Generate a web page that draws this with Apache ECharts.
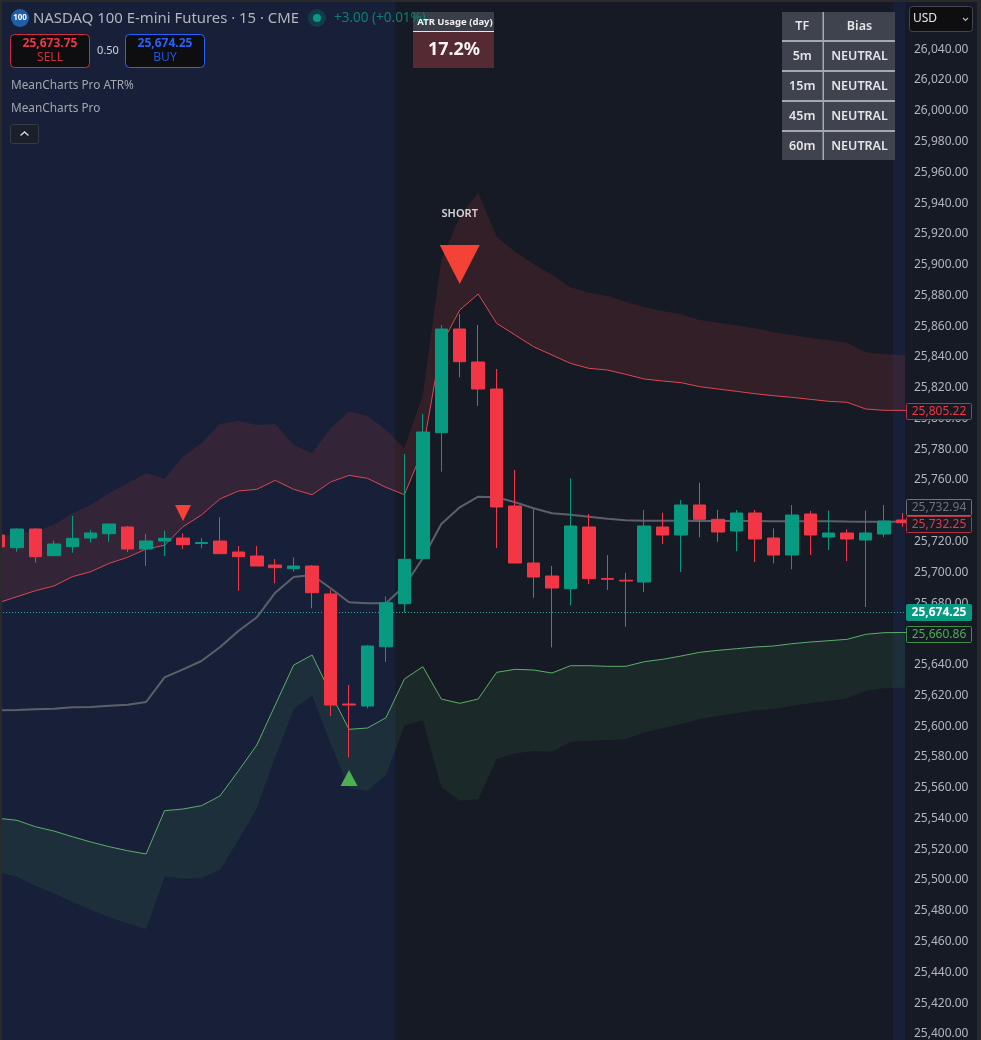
<!DOCTYPE html>
<html><head><meta charset="utf-8">
<style>html,body{margin:0;padding:0;background:#161a25}#c{width:981px;height:1040px}</style>
<script src="https://cdn.jsdelivr.net/npm/echarts@6/dist/echarts.min.js"></script>
</head><body><div id="c"></div>
<script>
const open=[25724.25,25716,25728.15,25710.8,25716.65,25722.3,25725.1,25729.45,25715.15,25720.35,25722.3,25718.7,25720.35,25713.2,25710.6,25704.75,25702.35,25704.1,25685.9,25614.4,25613.1,25651.65,25679.6,25708.85,25790.75,25858.15,25836.7,25819.15,25743.1,25706.05,25697.6,25689.35,25729.45,25696,25694.85,25693.7,25729.45,25724.25,25743.75,25734.45,25726.85,25738.55,25722.3,25711.25,25737.9,25722.95,25725.55,25721,25724.9,25734];
const close=[25716.5,25728.15,25710.15,25718.4,25722.1,25725.55,25731.4,25715.15,25720.35,25722.1,25717.95,25719.4,25712.1,25710.15,25704.1,25703,25704.1,25686.75,25613.75,25613.75,25652.1,25680.25,25708.45,25791.2,25858.15,25836.9,25819.15,25742.45,25706.05,25696.95,25689.8,25730.1,25695.85,25695.45,25694.35,25730.1,25724.25,25743.75,25734.45,25726.2,25738.55,25721.65,25711.25,25737.25,25724.25,25725.55,25721.65,25725.55,25733.35,25732.25];
const low=[25713.9,25713.4,25706.25,25710.8,25712.75,25719.25,25719.9,25713.2,25704.1,25710.6,25715.15,25715.6,25712.1,25688.05,25704.1,25692.85,25700.4,25676.6,25606.6,25579.75,25611.6,25641.7,25673.75,25708.85,25765.4,25826.75,25808.1,25715.8,25706.05,25683.5,25651.25,25678.55,25692.4,25688.5,25664.65,25687.2,25718.4,25700.2,25722.75,25719.9,25713.65,25706.7,25705.85,25701.95,25711.25,25714.5,25707.35,25677.45,25722.75,25729.65];
const high=[25725.55,25728.6,25728.8,25720.55,25736.6,25727.5,25731.4,25730.1,25724.9,25727.05,25725.35,25722.1,25735.75,25717.1,25717.1,25708.65,25709.75,25704.75,25688.5,25626.75,25652.75,25684.4,25776.9,25802.9,25860.75,25867.9,25860.75,25832.15,25766.5,25740.95,25704.1,25761.1,25737.9,25711.25,25699.75,25740.5,25738.75,25747,25758.25,25740.5,25740.5,25740.5,25728.6,25743.75,25739.85,25740.05,25727.95,25740.05,25743.75,25738.55];
const redLine=[25680.25,25684.15,25688.05,25691.1,25697.15,25700.4,25705.85,25709.75,25715.15,25717.55,25729.65,25737.25,25747.65,25752.85,25753.95,25759.8,25753.95,25750.45,25758.7,25763.05,25761.1,25755.25,25750.45,25779.5,25847.75,25870.5,25880.9,25861.85,25854.25,25846.65,25841.25,25835.85,25832.6,25831.5,25828.7,25825.65,25824.35,25823.25,25820.65,25819.15,25817.65,25816.1,25814.8,25813.75,25812.45,25811.15,25810.5,25806.15,25805.3,25805.22,25805.22];
const redUpper=[25722.95,25724.9,25726.85,25730.75,25738.35,25743.75,25751.35,25757.85,25764.35,25760.85,25775.15,25783.85,25796.4,25798.35,25795.75,25796.4,25782.75,25777.35,25793.6,25804.4,25801.8,25792.5,25780.6,25815.25,25903,25931.15,25946.75,25918.15,25908.4,25900.4,25893.25,25885.25,25881.75,25879.6,25875.9,25872.25,25869.85,25867.7,25864,25862.25,25860.55,25858.6,25856.2,25854.25,25852.3,25850.8,25849.25,25843,25841.7,25841.25,25841.25];
const greenLine=[25540.1,25538.8,25534.65,25531.85,25528.15,25524.7,25521.65,25519.05,25516.9,25545.05,25546.15,25548.3,25554.6,25570.85,25587.75,25613.75,25639.75,25646.25,25621.35,25597.95,25598.8,25605.5,25630.65,25638.65,25617.65,25614.85,25617.65,25635,25636.95,25636.5,25634.55,25639.3,25639.3,25638.9,25638.9,25641.9,25643.45,25645.6,25648,25649.3,25650.35,25651.45,25652.1,25653.6,25654.7,25655.55,25656.45,25659.7,25660.75,25660.86,25660.86];
const greenLower=[25505,25502.15,25496.1,25491.35,25485.9,25480.5,25475.75,25471.85,25468.15,25502.15,25500.85,25501.3,25506.5,25526,25546.6,25580.15,25610.95,25620.05,25588.85,25559.6,25558.05,25568.25,25600.4,25604,25560.65,25551.55,25552.45,25578.65,25582.35,25583.85,25583.4,25589.9,25590.55,25591,25591.45,25596,25598.6,25601.4,25604.65,25606.6,25608.55,25610.3,25611.15,25613.3,25615.05,25616.35,25618.1,25623.05,25624.6,25625,25625];
const greyLine=[25610.3,25610.5,25610.95,25611.35,25612.25,25612.45,25613.3,25613.95,25615.7,25631.75,25636.95,25642.35,25651.25,25661.85,25670.75,25686.75,25696.95,25698.25,25689.6,25680.5,25679.85,25679.85,25691.1,25709.1,25731.4,25742.25,25749.15,25748.75,25745.5,25741.6,25738.35,25737.4,25736.15,25734.85,25733.8,25733.55,25733.55,25733.55,25733.35,25733.35,25733.35,25733.35,25733.15,25733.15,25733.15,25733.15,25733,25732.94,25732.94,25732.94,25732.94];
const lastPrice=25674.25;
const sessionBands=[[0.0813,21.51],[48.47,49.133]];
const downMarks=[[10,25738.55],[25,25900]];
const upMarks=[[19,25566.3]];
const shortLabel=[[25,25933.2]];
const tableHead=['TF','Bias'];
const tableRows=[['5m','NEUTRAL'],['15m','NEUTRAL'],['45m','NEUTRAL'],['60m','NEUTRAL']];
const priceTags=[
 {v:25805.22,nudge:0.5,txt:'#f23645',bd:'#b8333f',bg:'#161a25'},
 {v:25732.94,nudge:-15,txt:'#6f727c',bd:'#6f727c',bg:'#161a25'},
 {v:25732.25,nudge:1.5,txt:'#e8394a',bd:'#b8333f',bg:'#161a25'},
 {v:25674.25,nudge:0.5,txt:'#ffffff',bd:'#089981',bg:'#089981',bold:true},
 {v:25660.86,nudge:1,txt:'#4caf50',bd:'#3f8f46',bg:'#161a25'}
];

const FONT='"Noto Sans"';
const idx=open.map((_,i)=>i);
const lineIdx=redLine.map((_,i)=>i);
const chart=echarts.init(document.getElementById('c'),null,{renderer:'canvas'});
const bandS=(name,lowerVals,upperVals,fill)=>({
 type:'custom',name,z:2,silent:true,animation:false,clip:true,
 encode:{x:0,y:[1,2]},
 data:lineIdx.map(i=>[i,lowerVals[i],upperVals[i]]),
 renderItem:(params,api)=>{
  if(params.dataIndexInside!==0) return;
  const pts=[];
  lineIdx.forEach(i=>pts.push(api.coord([i,upperVals[i]])));
  lineIdx.slice().reverse().forEach(i=>pts.push(api.coord([i,lowerVals[i]])));
  return {type:'polygon',shape:{points:pts},style:{fill}};
 }
});
const lineS=(name,vals,color,w)=>({type:'line',name,z:3,showSymbol:false,silent:true,animation:false,
 data:lineIdx.map(i=>[i,vals[i]]),lineStyle:{color,width:w}});

chart.setOption({
 animation:false,backgroundColor:'#161a25',
 grid:{left:0,right:76,top:-12.3,height:1076.92,containLabel:false,outerBoundsMode:'none'},
 xAxis:{type:'value',min:0.0813,max:49.133,show:false,splitLine:{show:false}},
 yAxis:{type:'value',position:'right',min:25380,max:26080,interval:20,z:5,
  axisLine:{show:false},axisTick:{show:false},splitLine:{show:false},
  axisLabel:{showMinLabel:false,showMaxLabel:false,margin:9,color:'#b2b5be',fontFamily:FONT,fontSize:12,
   formatter:v=>v.toLocaleString('en-US',{minimumFractionDigits:2,maximumFractionDigits:2})}},
 series:[
  {type:'line',name:'session',data:[],silent:true,
   markArea:{silent:true,z:1,itemStyle:{color:'#172038'},
    data:sessionBands.map(b=>[{xAxis:b[0]},{xAxis:b[1]}])},
   markLine:{silent:true,symbol:'none',z:2,label:{show:false},
    lineStyle:{color:'#2fa89a',type:[1,2],width:1},data:[{yAxis:lastPrice}]}},
  bandS('redBand',redLine,redUpper,'rgba(244,67,54,0.13)'),
  bandS('greenBand',greenLower,greenLine,'rgba(76,175,80,0.11)'),
  lineS('redLine',redLine,'#df4650',1),
  lineS('greenLine',greenLine,'#5cae68',1),
  lineS('greyLine',greyLine,'#5d606b',2),
  {type:'candlestick',name:'NQ',z:4,barWidth:13,silent:true,animation:false,encode:{x:0,y:[1,2,3,4]},
   data:idx.map(i=>[i,open[i],close[i],low[i],high[i]]),
   itemStyle:{color:'#089981',color0:'#f23645',borderColor:'#089981',borderColor0:'#f23645',borderWidth:1}},
  {type:'scatter',name:'down',z:5,silent:true,symbol:'triangle',symbolRotate:180,
   symbolSize:(v)=>v[0]===25?[40,39]:[16,16],data:downMarks,itemStyle:{color:'#f44336',opacity:1}},
  {type:'scatter',name:'up',z:5,silent:true,symbol:'triangle',symbolSize:[17,16],data:upMarks,itemStyle:{color:'#4caf50',opacity:1}},
  {type:'scatter',name:'short',z:5,silent:true,symbolSize:1,data:shortLabel,itemStyle:{color:'transparent'},
   label:{show:true,position:'inside',formatter:'SHORT',color:'#ffffff',fontFamily:FONT,fontSize:11,fontWeight:600}}
 ]
});

const Z=100;
const rect=(x,y,w,h,fill,stroke,r,z)=>({type:'rect',silent:true,z:z||Z,shape:{x,y,width:w,height:h,r:r||0},style:{fill:fill||'transparent',stroke:stroke||null,lineWidth:stroke?1:0}});
const text=(t,x,y,fill,font,align,z)=>({type:'text',silent:true,z:(z||Z)+1,style:{text:t,x,y,fill,font:font+' '+FONT,align:align||'left',verticalAlign:'middle'}});
const g=[];
// frame
g.push(rect(0,0,2,1040,'#2a2a2a'),rect(977,0,4,1040,'#2a2a2a'),rect(0,0,981,2,'#2a2a2a'));
// header
g.push({type:'circle',silent:true,z:Z,shape:{cx:20,cy:18,r:9},style:{fill:'#1f5fa8'}});
g.push(text('100',20,18,'#ffffff','bold 8px','center'));
g.push(text('NASDAQ 100 E-mini Futures · 15 · CME',33,18.5,'#b2b5be','14.9px'));
g.push({type:'circle',silent:true,z:Z,shape:{cx:317,cy:18,r:9},style:{fill:'rgba(8,153,129,0.22)'}});
g.push({type:'circle',silent:true,z:Z,shape:{cx:317,cy:18,r:4},style:{fill:'#089981'}});
g.push(text('+3.00 (+0.01%)',334,18.5,'#0e7f6c','13.5px'));
g.push(rect(10.5,34.5,79,33,'#0e0e11','#c8303f',4));
g.push(text('25,673.75',50,44,'#f23645','bold 12px','center'),text('SELL',50,58,'#c8303f','12px','center'));
g.push(text('0.50',108,51,'#d1d4dc','11px','center'));
g.push(rect(125.5,34.5,79,33,'#0e0e11','#2962ff',4));
g.push(text('25,674.25',165,44,'#2962ff','bold 12px','center'),text('BUY',165,58,'#2456d8','12px','center'));
g.push(text('MeanCharts Pro ATR%',11,86,'#a3a6af','11.8px'),text('MeanCharts Pro',11,109,'#a3a6af','11.8px'));
g.push(rect(10.5,124.5,28,19,'#1b1f2a','#363a45',2));
g.push({type:'polyline',silent:true,z:Z+1,shape:{points:[[20.5,135.5],[24.5,132],[28.5,135.5]]},style:{stroke:'#d1d4dc',lineWidth:1.4,fill:null}});
// ATR box
g.push(rect(413,12,81,19,'#3a3e49'),rect(413,31,81,1,'#e6e6e6'),rect(413,32,81,36,'#562a33'));
g.push(text('ATR Usage (day)',455,22,'#f0f0f0','bold 9.5px','center'),text('17.2%',454,50,'#f5f5f5','bold 18px','center'));
// bias table
g.push(rect(782,12,113,148,'#a5a8af'));
const colX=[[782,40.5],[824,71]],rowY=[12,42,72,102,132];
[tableHead,...tableRows].forEach((row,r)=>{
 const y=rowY[r],h=28;
 row.forEach((c,k)=>{
  g.push(rect(colX[k][0],y,colX[k][1],h,'#3f434e'));
  g.push(text(c,colX[k][0]+colX[k][1]/2,y+h/2+0.5,'#e4e5e8','600 12.5px','center'));
 });
});
// USD select
g.push(rect(909.5,6.5,63,25,'#0e0e11','#42454f',3,Z+2));
g.push(text('USD',913,19,'#e6e6e6','12px','left',Z+2));
g.push({type:'polyline',silent:true,z:Z+3,shape:{points:[[963,18],[965.5,20.5],[968,18]]},style:{stroke:'#b2b5be',lineWidth:1.2,fill:null}});
// price tags placed from the y scale
priceTags.forEach(t=>{
 const py=chart.convertToPixel({yAxisIndex:0},t.v)+t.nudge;
 const top=Math.round(py-8)+0.5;
 g.push(rect(906.5,top,65,16,t.bg,t.bd,1));
 g.push(text(t.v.toLocaleString('en-US',{minimumFractionDigits:2}),939,top+8,t.txt,(t.bold?'bold ':'')+'12px','center'));
});
chart.setOption({graphic:{elements:g}});
</script></body></html>
